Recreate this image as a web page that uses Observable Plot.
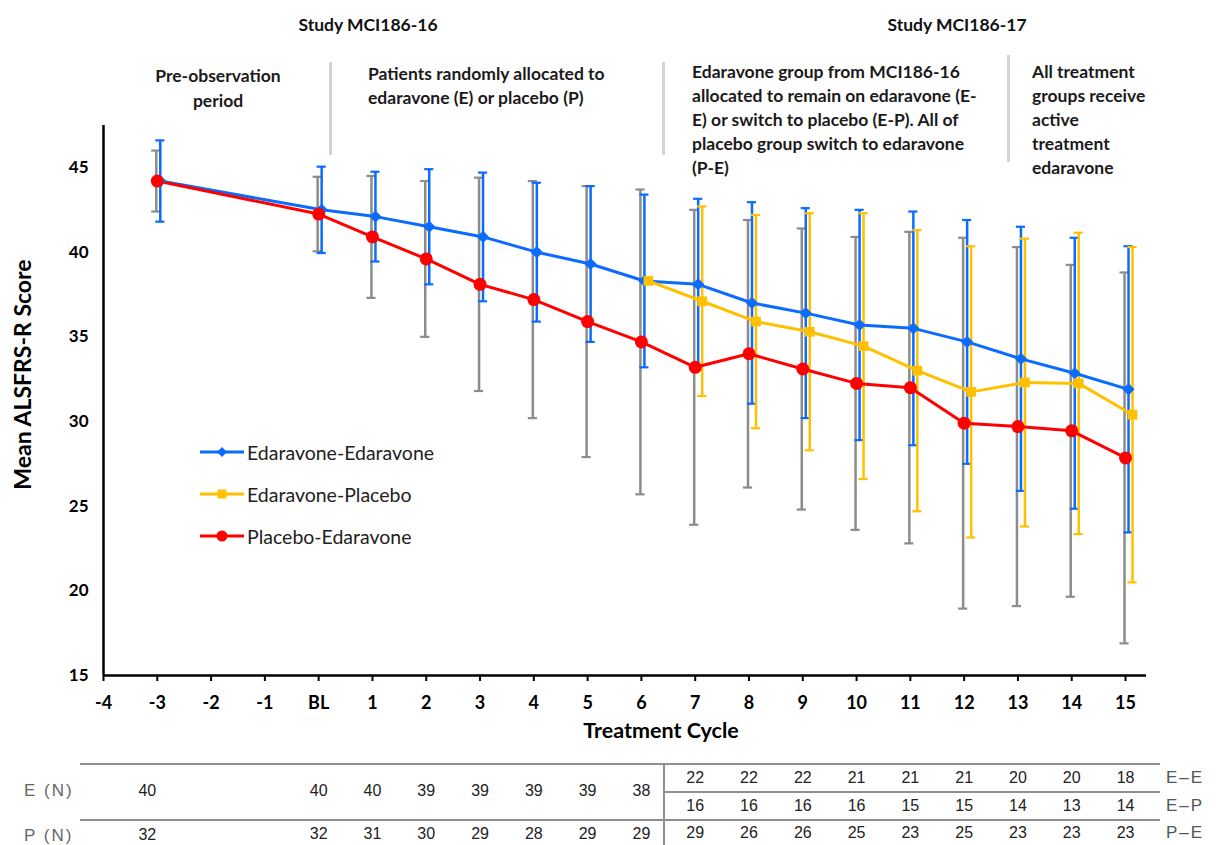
<!DOCTYPE html>
<html>
<head>
<meta charset="utf-8">
<script src="https://cdn.jsdelivr.net/npm/d3@7"></script>
<script src="https://cdn.jsdelivr.net/npm/@observablehq/plot@0.6"></script>
<style>
  body { margin: 0; background: white; }
  #wrap { position: relative; width: 1221px; height: 845px; overflow: hidden; background: white; }
  #wrap > svg { position: absolute; left: 0; top: 0; }
  .ov { position: absolute; font-family: Lato, "Open Sans", sans-serif; }
  .hdr { font-weight: bold; font-size: 17.5px; color: #111; text-align: center; width: 400px; line-height: 24px; }
  .ann { font-weight: bold; font-size: 17.5px; color: #1a1a1a; line-height: 24px; white-space: nowrap; }
  .sep { background: #d3d3d3; width: 3px; }
  .leg { font-size: 19.5px; color: #222; display: flex; align-items: center; height: 22px; white-space: nowrap; }
  .leg svg { display: block; }
  .tl { background: #8f8f8f; height: 2px; }
  .tlab { font-family: "Liberation Sans", Arial, sans-serif; font-size: 17px; color: #666; letter-spacing: 2px; line-height: 20px; white-space: nowrap; }
</style>
</head>
<body>
<div id="wrap"></div>
<script>
// ---------- data ----------
const cycles = [-3, 0, 1, 2, 3, 4, 5, 6, 7, 8, 9, 10, 11, 12, 13, 14, 15];
const eeMean = [44.2, 42.5, 42.1, 41.5, 40.9, 40.0, 39.3, 38.3, 38.1, 37.0, 36.4, 35.7, 35.5, 34.7, 33.7, 32.85, 31.9];
const eeSD   = [2.4, 2.55, 2.65, 3.4, 3.8, 4.1, 4.6, 5.1, 5.05, 5.95, 6.2, 6.8, 6.9, 7.2, 7.8, 8.0, 8.45];
const peMean = [44.2, 42.25, 40.9, 39.6, 38.1, 37.2, 35.9, 34.7, 33.2, 34.0, 33.1, 32.25, 32.0, 29.9, 29.7, 29.45, 27.85];
const peSD   = [1.8, 2.2, 3.6, 4.6, 6.3, 7.0, 8.0, 9.0, 9.3, 7.9, 8.3, 8.65, 9.2, 10.95, 10.6, 9.8, 10.95];
const epCycles = [6, 7, 8, 9, 10, 11, 12, 13, 14, 15];
const epMean = [38.3, 37.1, 35.9, 35.3, 34.45, 33.0, 31.75, 32.3, 32.25, 30.4];
const epSD   = [null, 5.6, 6.3, 7.0, 7.85, 8.3, 8.6, 8.5, 8.9, 9.9];

const seriesNames = ["Edaravone-Edaravone", "Edaravone-Placebo", "Placebo-Edaravone"];
const xTicks = [-4, -3, -2, -1, 0, 1, 2, 3, 4, 5, 6, 7, 8, 9, 10, 11, 12, 13, 14, 15];
const xTickLabels = ["-4", "-3", "-2", "-1", "BL", "1", "2", "3", "4", "5", "6", "7", "8", "9", "10", "11", "12", "13", "14", "15"];
const yTicks = [15, 20, 25, 30, 35, 40, 45];

// N table
const nCyclesPre = [-3, 0, 1, 2, 3, 4, 5, 6];
const nE = [40, 40, 40, 39, 39, 39, 39, 38];
const nP = [32, 32, 31, 30, 29, 28, 29, 29];
const nCyclesExt = [7, 8, 9, 10, 11, 12, 13, 14, 15];
const nEE = [22, 22, 22, 21, 21, 21, 20, 20, 18];
const nEP = [16, 16, 16, 16, 15, 15, 14, 13, 14];
const nPE = [29, 26, 26, 25, 23, 25, 23, 23, 23];

// ---------- build tables ----------
const BLUE = "#0a6cff", YELLOW = "#ffc000", RED = "#ff0000", GRAY = "#8c8c8c";
const ee = cycles.map((x, i) => ({x, mean: eeMean[i], sd: eeSD[i]}));
const pe = cycles.map((x, i) => ({x, mean: peMean[i], sd: peSD[i]}));
const ep = epCycles.map((x, i) => ({x, mean: epMean[i], sd: epSD[i]}));
const epBars = ep.filter(d => d.sd != null);

const tPreE = nCyclesPre.map((c, i) => ({c, n: nE[i]}));
const tPreP = nCyclesPre.map((c, i) => ({c, n: nP[i]}));
const tEE = nCyclesExt.map((c, i) => ({c, n: nEE[i]}));
const tEP = nCyclesExt.map((c, i) => ({c, n: nEP[i]}));
const tPE = nCyclesExt.map((c, i) => ({c, n: nPE[i]}));

const capW = 0.085;
function errBars(data, color, dx) {
  return [
    Plot.ruleX(data, {x: "x", y1: d => d.mean - d.sd, y2: d => d.mean + d.sd, stroke: color, strokeWidth: 2.5, dx}),
    Plot.ruleY(data, {y: d => d.mean - d.sd, x1: d => d.x - capW, x2: d => d.x + capW, stroke: color, strokeWidth: 2.2, dx}),
    Plot.ruleY(data, {y: d => d.mean + d.sd, x1: d => d.x - capW, x2: d => d.x + capW, stroke: color, strokeWidth: 2.2, dx})
  ];
}
const tableFont = {fontFamily: "Liberation Sans, Arial, sans-serif", fontSize: 16, fill: "#222", frameAnchor: "bottom"};

const chart = Plot.plot({
  width: 1221,
  height: 845,
  marginLeft: 103,
  marginRight: 75,
  marginTop: 125,
  marginBottom: 170,
  x: {domain: [-4, 15.39]},
  y: {domain: [15, 47.48]},
  style: {fontFamily: "Lato, 'Open Sans', sans-serif", color: "black", background: "transparent", overflow: "visible"},
  marks: [
    ...errBars(pe, GRAY, -1),
    ...errBars(ee, BLUE, 3),
    ...errBars(epBars, YELLOW, 7),
    Plot.line(ee, {x: "x", y: "mean", stroke: BLUE, strokeWidth: 3, dx: 3}),
    Plot.line(ep, {x: "x", y: "mean", stroke: YELLOW, strokeWidth: 3, dx: 7}),
    Plot.line(pe, {x: "x", y: "mean", stroke: RED, strokeWidth: 3}),
    Plot.dot(ee, {x: "x", y: "mean", symbol: "diamond2", r: 5.5, fill: BLUE, dx: 3}),
    Plot.dot(ep, {x: "x", y: "mean", symbol: "square", r: 5.5, fill: YELLOW, dx: 7}),
    Plot.dot(pe, {x: "x", y: "mean", symbol: "circle", r: 6.5, fill: RED}),
    // axes
    Plot.ruleY([15], {stroke: "black", strokeWidth: 2.5}),
    Plot.ruleX([-4], {stroke: "black", strokeWidth: 2.5}),
    Plot.axisY(yTicks, {tickSize: 0, tickPadding: 15, fontSize: 17, fontWeight: "bold", label: null}),
    Plot.axisX(xTicks, {tickSize: 6, strokeWidth: 2, tickPadding: 15, fontSize: 18, fontWeight: "bold", label: null,
      tickFormat: d => xTickLabels[xTicks.indexOf(d)]}),
    Plot.text(["Treatment Cycle"], {frameAnchor: "bottom", textAnchor: "middle", dx: 36, dy: 62, fontSize: 21.5, fontWeight: "bold"}),
    Plot.text(["Mean ALSFRS-R Score"], {frameAnchor: "left", textAnchor: "middle", dx: -80, dy: -26, rotate: -90, fontSize: 23, fontWeight: "bold"}),
    // N table
    Plot.text(tPreE.filter(d => d.c === -3), {x: "c", text: "n", ...tableFont, dx: -10, dy: 120}),
    Plot.text(tPreE.filter(d => d.c !== -3), {x: "c", text: "n", ...tableFont, dy: 120}),
    Plot.text(tPreP.filter(d => d.c === -3), {x: "c", text: "n", ...tableFont, dx: -10, dy: 164}),
    Plot.text(tPreP.filter(d => d.c !== -3), {x: "c", text: "n", ...tableFont, dy: 163}),
    Plot.text(tEE, {x: "c", text: "n", ...tableFont, dy: 107}),
    Plot.text(tEP, {x: "c", text: "n", ...tableFont, dy: 135}),
    Plot.text(tPE, {x: "c", text: "n", ...tableFont, dy: 162})
  ]
});

const wrap = document.getElementById("wrap");
wrap.appendChild(chart);

// ---------- overlays: headers, separators, legend, table rules ----------
function add(cls, style, html) {
  const d = document.createElement("div");
  d.className = "ov " + cls;
  Object.assign(d.style, style);
  if (html != null) d.innerHTML = html;
  wrap.appendChild(d);
  return d;
}
add("hdr", {left: "168px", top: "13px"}, "Study MCI186-16");
add("hdr", {left: "757px", top: "13px"}, "Study MCI186-17");
add("sep", {left: "329px", top: "62px", height: "93px"});
add("sep", {left: "662px", top: "62px", height: "93px"});
add("sep", {left: "1007px", top: "55px", height: "107px"});
add("ann", {left: "118px", top: "63px", width: "200px", textAlign: "center", lineHeight: "25px"}, "Pre-observation<br>period");
add("ann", {left: "368px", top: "62px"}, "Patients randomly allocated to<br>edaravone (E) or placebo (P)");
add("ann", {left: "692px", top: "60px"}, "Edaravone group from MCI186-16<br>allocated to remain on edaravone (E-<br>E) or switch to placebo (E-P). All of<br>placebo group switch to edaravone<br>(P-E)");
add("ann", {left: "1032px", top: "60px"}, "All treatment<br>groups receive<br>active<br>treatment<br>edaravone");

const legSym = [
  `<svg width="44" height="16"><line x1="0" x2="44" y1="8" y2="8" stroke="${BLUE}" stroke-width="3"/><path d="M22,3 L27,8 L22,13 L17,8 Z" fill="${BLUE}"/></svg>`,
  `<svg width="44" height="16"><line x1="0" x2="44" y1="8" y2="8" stroke="${YELLOW}" stroke-width="3"/><rect x="17.5" y="3.5" width="9" height="9" fill="${YELLOW}"/></svg>`,
  `<svg width="44" height="16"><line x1="0" x2="44" y1="8" y2="8" stroke="${RED}" stroke-width="3"/><circle cx="22" cy="8" r="5.5" fill="${RED}"/></svg>`
];
[452, 494, 536].forEach((cy, i) => {
  add("leg", {left: "200px", top: (cy - 11) + "px"}, legSym[i] + `<span style="margin-left:3px">${seriesNames[i]}</span>`);
});

add("tl", {left: "80px", top: "763px", width: "1080px"});
add("tl", {left: "80px", top: "819px", width: "1080px"});
add("tl", {left: "664px", top: "791px", width: "496px"});
add("tl", {left: "663px", top: "764px", width: "2px", height: "81px"});
add("tlab", {left: "24px", top: "781px"}, "E (N)");
add("tlab", {left: "24px", top: "826px"}, "P (N)");
add("tlab", {left: "1166px", top: "768px", color: "#555"}, "E–E");
add("tlab", {left: "1166px", top: "796px", color: "#555"}, "E–P");
add("tlab", {left: "1166px", top: "823px", color: "#555"}, "P–E");
</script>
</body>
</html>
